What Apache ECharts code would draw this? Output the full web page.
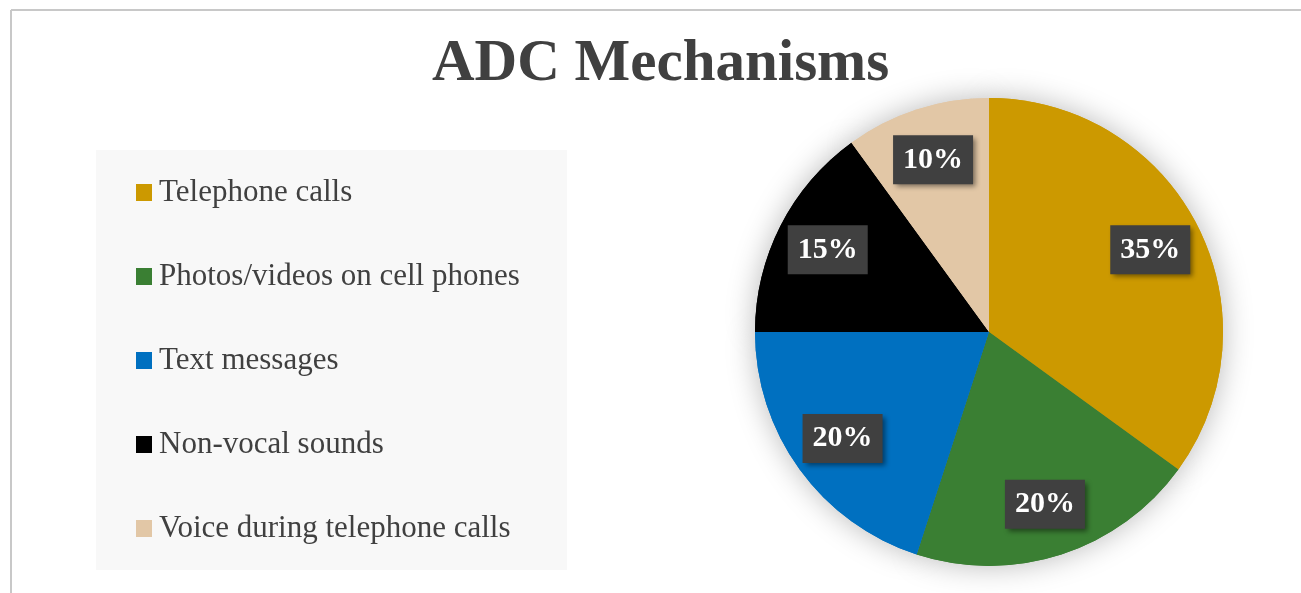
<!DOCTYPE html>
<html>
<head>
<meta charset="utf-8">
<script src="https://cdn.jsdelivr.net/npm/echarts@6/dist/echarts.min.js"></script>
<style>
html,body{margin:0;padding:0;background:#fff;}
#c{width:1301px;height:593px;}
</style>
</head>
<body>
<div id="c"></div>
<script>
const titleText = 'ADC Mechanisms';
const categories = ['Telephone calls', 'Photos/videos on cell phones', 'Text messages', 'Non-vocal sounds', 'Voice during telephone calls'];
const values = [35, 20, 20, 15, 10];
const colors = ['#CC9900', '#3A7F33', '#0070C0', '#000000', '#E2C7A6'];

const FONT = '"Liberation Serif", "DejaVu Serif", serif';
const data = categories.map((n, i) => ({ name: n, value: values[i], itemStyle: { color: colors[i] } }));
const transparentData = categories.map((n, i) => ({ name: n, value: values[i], itemStyle: { color: 'rgba(0,0,0,0)' } }));

const chart = echarts.init(document.getElementById('c'), null, { renderer: 'canvas' });
chart.setOption({
  backgroundColor: '#ffffff',
  animation: false,
  graphic: [
    { type: 'line', shape: { x1: 11, y1: 10, x2: 1301, y2: 10 }, style: { stroke: '#c8c8c8', lineWidth: 2 }, silent: true },
    { type: 'line', shape: { x1: 11, y1: 10, x2: 11, y2: 593 }, style: { stroke: '#c8c8c8', lineWidth: 2 }, silent: true },
    { type: 'rect', shape: { x: 96, y: 150, width: 471, height: 420 }, style: { fill: '#f8f8f8' }, z: -10, silent: true }
  ],
  title: {
    text: titleText,
    left: 427,
    top: 30,
    textStyle: { fontFamily: FONT, fontWeight: 'bold', fontSize: 59, color: '#404040' }
  },
  legend: {
    orient: 'vertical',
    left: 136,
    top: 177,
    padding: 0,
    itemWidth: 16,
    itemHeight: 17,
    itemGap: 53,
    icon: 'rect',
    data: categories,
    selectedMode: false,
    textStyle: { fontFamily: FONT, fontSize: 31, color: '#404040', lineHeight: 30, padding: [0, 0, 0, 2] }
  },
  series: [
    {
      type: 'pie',
      name: 'shadow',
      center: [989, 332],
      radius: [0, 234],
      startAngle: 90,
      clockwise: true,
      silent: true,
      label: { show: false },
      labelLine: { show: false },
      itemStyle: { shadowBlur: 30, shadowColor: 'rgba(0,0,0,0.28)', shadowOffsetX: 0, shadowOffsetY: 0 },
      data: data,
      z: 1
    },
    {
      type: 'pie',
      name: 'main',
      center: [989, 332],
      radius: [0, 234],
      startAngle: 90,
      clockwise: true,
      silent: true,
      label: { show: false },
      labelLine: { show: false },
      data: data,
      z: 2
    },
    {
      type: 'pie',
      name: 'labels',
      center: [989, 332],
      radius: [122, 234],
      startAngle: 90,
      clockwise: true,
      silent: true,
      labelLine: { show: false },
      label: {
        show: true,
        position: 'inside',
        formatter: '{d}%',
        fontFamily: FONT,
        fontWeight: 'bold',
        fontSize: 30,
        color: '#ffffff',
        backgroundColor: '#404040',
        padding: [11, 10, 8, 10],
        shadowColor: 'rgba(0,0,0,0.45)',
        shadowBlur: 5,
        shadowOffsetX: 3,
        shadowOffsetY: 3
      },
      data: transparentData,
      z: 3
    }
  ]
});
</script>
</body>
</html>
